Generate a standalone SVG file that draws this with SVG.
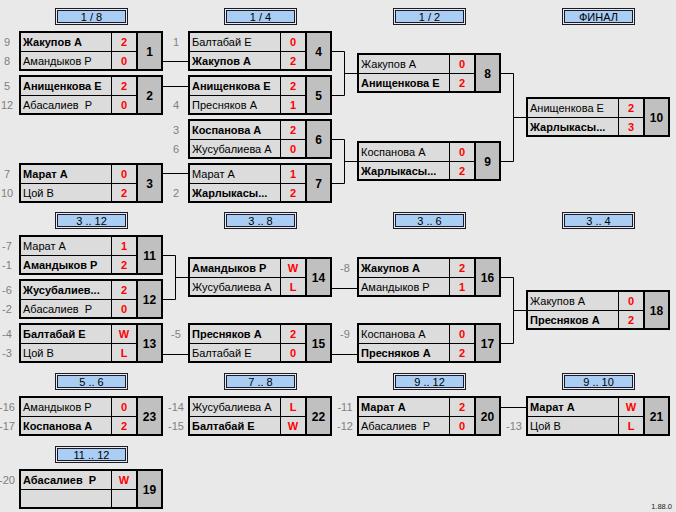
<svg xmlns="http://www.w3.org/2000/svg" width="676" height="512" viewBox="0 0 676 512">
<style>
.bg{fill:#e9e9e9}
.box{fill:#dcdcdc;stroke:#000;stroke-width:2}
.nc{fill:#c0c0c0}
.s1{stroke:#000;stroke-width:1;fill:none}
.s2{stroke:#000;stroke-width:2;fill:none}
text{font-family:"Liberation Sans",Arial,sans-serif;font-size:11px}
.nm{fill:#000}
.nb{fill:#000;font-weight:bold}
.sc{fill:#ff0000;font-weight:bold;text-anchor:middle}
.id{fill:#000;font-weight:bold;font-size:12px;text-anchor:middle}
.sd{fill:#808080;text-anchor:middle}
.ho{fill:#e9e9e9;stroke:#1a1a2a;stroke-width:1}
.hi{fill:#a9cdf3;stroke:#1a1a2a;stroke-width:1}
.ht{fill:#000;text-anchor:middle}
.con{stroke:#000;stroke-width:1;fill:none}
.ver{fill:#222;font-size:7.5px;text-anchor:end}
</style>
<defs>
<g id="frame">
<rect class="box" x="1" y="1" width="142" height="38"/>
<rect class="nc" x="118" y="2" width="24" height="36"/>
<path class="s1" d="M92.5 2V38M2 20.5H118"/>
<path class="s2" d="M118 2V38"/>
</g>
<g id="hdr">
<rect class="ho" x="0.5" y="0.5" width="72" height="16"/>
<rect class="hi" x="2.5" y="2.5" width="68" height="12"/>
</g>
</defs>
<rect class="bg" x="0" y="0" width="676" height="512"/>

<g id="headers">
<g transform="translate(55,8)"><use href="#hdr"/><text class="ht" x="36.5" y="13">1 / 8</text></g>
<g transform="translate(224,8)"><use href="#hdr"/><text class="ht" x="36.5" y="13">1 / 4</text></g>
<g transform="translate(393,8)"><use href="#hdr"/><text class="ht" x="36.5" y="13">1 / 2</text></g>
<g transform="translate(562,8)"><use href="#hdr"/><text class="ht" x="36.5" y="13">ФИНАЛ</text></g>
<g transform="translate(55,212)"><use href="#hdr"/><text class="ht" x="36.5" y="13">3 .. 12</text></g>
<g transform="translate(224,212)"><use href="#hdr"/><text class="ht" x="36.5" y="13">3 .. 8</text></g>
<g transform="translate(393,212)"><use href="#hdr"/><text class="ht" x="36.5" y="13">3 .. 6</text></g>
<g transform="translate(562,212)"><use href="#hdr"/><text class="ht" x="36.5" y="13">3 .. 4</text></g>
<g transform="translate(55,373)"><use href="#hdr"/><text class="ht" x="36.5" y="13">5 .. 6</text></g>
<g transform="translate(224,373)"><use href="#hdr"/><text class="ht" x="36.5" y="13">7 .. 8</text></g>
<g transform="translate(393,373)"><use href="#hdr"/><text class="ht" x="36.5" y="13">9 .. 12</text></g>
<g transform="translate(562,373)"><use href="#hdr"/><text class="ht" x="36.5" y="13">9 .. 10</text></g>
<g transform="translate(55,446)"><use href="#hdr"/><text class="ht" x="36.5" y="13">11 .. 12</text></g>
</g>

<g id="connectors" class="con">
<path d="M163 61.5H188"/>
<path d="M163 86.5H188"/>
<path d="M163 173.5H188"/>
<path d="M332 51.5H344.5V95.5H332M344.5 73.5H357"/>
<path d="M332 139.5H344.5V183.5H332M344.5 161.5H357"/>
<path d="M501 73.5H513.5V161.5H501M513.5 117.5H526"/>
<path d="M163 255.5H175.5V299.5H163M175.5 277.5H188"/>
<path d="M163 354.5H188"/>
<path d="M332 288.5H357"/>
<path d="M332 354.5H357"/>
<path d="M501 277.5H513.5V343.5H501M513.5 310.5H526"/>
<path d="M501 407.5H526"/>
</g>

<g id="m1" transform="translate(19,31)"><use href="#frame"/>
<text class="sd" x="-12" y="15">9</text><text class="sd" x="-12" y="34">8</text>
<text class="nb" x="4" y="15">Жакупов А</text><text class="nm" x="4" y="34">Амандыков Р</text>
<text class="sc" x="105" y="15">2</text><text class="sc" x="105" y="34">0</text>
<text class="id" x="130.5" y="25">1</text></g>

<g id="m2" transform="translate(19,75)"><use href="#frame"/>
<text class="sd" x="-12" y="15">5</text><text class="sd" x="-12" y="34">12</text>
<text class="nb" x="4" y="15">Анищенкова Е</text><text class="nm" x="4" y="34" xml:space="preserve">Абасалиев  Р</text>
<text class="sc" x="105" y="15">2</text><text class="sc" x="105" y="34">0</text>
<text class="id" x="130.5" y="25">2</text></g>

<g id="m3" transform="translate(19,163)"><use href="#frame"/>
<text class="sd" x="-12" y="15">7</text><text class="sd" x="-12" y="34">10</text>
<text class="nb" x="4" y="15">Марат А</text><text class="nm" x="4" y="34">Цой В</text>
<text class="sc" x="105" y="15">0</text><text class="sc" x="105" y="34">2</text>
<text class="id" x="130.5" y="25">3</text></g>

<g id="m4" transform="translate(188,31)"><use href="#frame"/>
<text class="sd" x="-12" y="15">1</text>
<text class="nm" x="4" y="15">Балтабай Е</text><text class="nb" x="4" y="34">Жакупов А</text>
<text class="sc" x="105" y="15">0</text><text class="sc" x="105" y="34">2</text>
<text class="id" x="130.5" y="25">4</text></g>

<g id="m5" transform="translate(188,75)"><use href="#frame"/>
<text class="sd" x="-12" y="34">4</text>
<text class="nb" x="4" y="15">Анищенкова Е</text><text class="nm" x="4" y="34">Пресняков А</text>
<text class="sc" x="105" y="15">2</text><text class="sc" x="105" y="34">1</text>
<text class="id" x="130.5" y="25">5</text></g>

<g id="m6" transform="translate(188,119)"><use href="#frame"/>
<text class="sd" x="-12" y="15">3</text><text class="sd" x="-12" y="34">6</text>
<text class="nb" x="4" y="15">Коспанова А</text><text class="nm" x="4" y="34">Жусубалиева А</text>
<text class="sc" x="105" y="15">2</text><text class="sc" x="105" y="34">0</text>
<text class="id" x="130.5" y="25">6</text></g>

<g id="m7" transform="translate(188,163)"><use href="#frame"/>
<text class="sd" x="-12" y="34">2</text>
<text class="nm" x="4" y="15">Марат А</text><text class="nb" x="4" y="34">Жарлыкасы...</text>
<text class="sc" x="105" y="15">1</text><text class="sc" x="105" y="34">2</text>
<text class="id" x="130.5" y="25">7</text></g>

<g id="m8" transform="translate(357,53)"><use href="#frame"/>
<text class="nm" x="4" y="15">Жакупов А</text><text class="nb" x="4" y="34">Анищенкова Е</text>
<text class="sc" x="105" y="15">0</text><text class="sc" x="105" y="34">2</text>
<text class="id" x="130.5" y="25">8</text></g>

<g id="m9" transform="translate(357,141)"><use href="#frame"/>
<text class="nm" x="4" y="15">Коспанова А</text><text class="nb" x="4" y="34">Жарлыкасы...</text>
<text class="sc" x="105" y="15">0</text><text class="sc" x="105" y="34">2</text>
<text class="id" x="130.5" y="25">9</text></g>

<g id="m10" transform="translate(526,97)"><use href="#frame"/>
<text class="nm" x="4" y="15">Анищенкова Е</text><text class="nb" x="4" y="34">Жарлыкасы...</text>
<text class="sc" x="105" y="15">2</text><text class="sc" x="105" y="34">3</text>
<text class="id" x="130.5" y="25">10</text></g>

<g id="m11" transform="translate(19,235)"><use href="#frame"/>
<text class="sd" x="-12" y="15">-7</text><text class="sd" x="-12" y="34">-1</text>
<text class="nm" x="4" y="15">Марат А</text><text class="nb" x="4" y="34">Амандыков Р</text>
<text class="sc" x="105" y="15">1</text><text class="sc" x="105" y="34">2</text>
<text class="id" x="130.5" y="25">11</text></g>

<g id="m12" transform="translate(19,279)"><use href="#frame"/>
<text class="sd" x="-12" y="15">-6</text><text class="sd" x="-12" y="34">-2</text>
<text class="nb" x="4" y="15">Жусубалиев...</text><text class="nm" x="4" y="34" xml:space="preserve">Абасалиев  Р</text>
<text class="sc" x="105" y="15">2</text><text class="sc" x="105" y="34">0</text>
<text class="id" x="130.5" y="25">12</text></g>

<g id="m13" transform="translate(19,323)"><use href="#frame"/>
<text class="sd" x="-12" y="15">-4</text><text class="sd" x="-12" y="34">-3</text>
<text class="nb" x="4" y="15">Балтабай Е</text><text class="nm" x="4" y="34">Цой В</text>
<text class="sc" x="105" y="15">W</text><text class="sc" x="105" y="34">L</text>
<text class="id" x="130.5" y="25">13</text></g>

<g id="m14" transform="translate(188,257)"><use href="#frame"/>
<text class="nb" x="4" y="15">Амандыков Р</text><text class="nm" x="4" y="34">Жусубалиева А</text>
<text class="sc" x="105" y="15">W</text><text class="sc" x="105" y="34">L</text>
<text class="id" x="130.5" y="25">14</text></g>

<g id="m15" transform="translate(188,323)"><use href="#frame"/>
<text class="sd" x="-12" y="15">-5</text>
<text class="nb" x="4" y="15">Пресняков А</text><text class="nm" x="4" y="34">Балтабай Е</text>
<text class="sc" x="105" y="15">2</text><text class="sc" x="105" y="34">0</text>
<text class="id" x="130.5" y="25">15</text></g>

<g id="m16" transform="translate(357,257)"><use href="#frame"/>
<text class="sd" x="-12" y="15">-8</text>
<text class="nb" x="4" y="15">Жакупов А</text><text class="nm" x="4" y="34">Амандыков Р</text>
<text class="sc" x="105" y="15">2</text><text class="sc" x="105" y="34">1</text>
<text class="id" x="130.5" y="25">16</text></g>

<g id="m17" transform="translate(357,323)"><use href="#frame"/>
<text class="sd" x="-12" y="15">-9</text>
<text class="nm" x="4" y="15">Коспанова А</text><text class="nb" x="4" y="34">Пресняков А</text>
<text class="sc" x="105" y="15">0</text><text class="sc" x="105" y="34">2</text>
<text class="id" x="130.5" y="25">17</text></g>

<g id="m18" transform="translate(526,290)"><use href="#frame"/>
<text class="nm" x="4" y="15">Жакупов А</text><text class="nb" x="4" y="34">Пресняков А</text>
<text class="sc" x="105" y="15">0</text><text class="sc" x="105" y="34">2</text>
<text class="id" x="130.5" y="25">18</text></g>

<g id="m23" transform="translate(19,396)"><use href="#frame"/>
<text class="sd" x="-12" y="15">-16</text><text class="sd" x="-12" y="34">-17</text>
<text class="nm" x="4" y="15">Амандыков Р</text><text class="nb" x="4" y="34">Коспанова А</text>
<text class="sc" x="105" y="15">0</text><text class="sc" x="105" y="34">2</text>
<text class="id" x="130.5" y="25">23</text></g>

<g id="m22" transform="translate(188,396)"><use href="#frame"/>
<text class="sd" x="-12" y="15">-14</text><text class="sd" x="-12" y="34">-15</text>
<text class="nm" x="4" y="15">Жусубалиева А</text><text class="nb" x="4" y="34">Балтабай Е</text>
<text class="sc" x="105" y="15">L</text><text class="sc" x="105" y="34">W</text>
<text class="id" x="130.5" y="25">22</text></g>

<g id="m20" transform="translate(357,396)"><use href="#frame"/>
<text class="sd" x="-12" y="15">-11</text><text class="sd" x="-12" y="34">-12</text>
<text class="nb" x="4" y="15">Марат А</text><text class="nm" x="4" y="34" xml:space="preserve">Абасалиев  Р</text>
<text class="sc" x="105" y="15">2</text><text class="sc" x="105" y="34">0</text>
<text class="id" x="130.5" y="25">20</text></g>

<g id="m21" transform="translate(526,396)"><use href="#frame"/>
<text class="sd" x="-12" y="34">-13</text>
<text class="nb" x="4" y="15">Марат А</text><text class="nm" x="4" y="34">Цой В</text>
<text class="sc" x="105" y="15">W</text><text class="sc" x="105" y="34">L</text>
<text class="id" x="130.5" y="25">21</text></g>

<g id="m19" transform="translate(19,469)"><use href="#frame"/>
<text class="sd" x="-12" y="15">-20</text>
<text class="nb" x="4" y="15" xml:space="preserve">Абасалиев  Р</text>
<text class="sc" x="105" y="15">W</text>
<text class="id" x="130.5" y="25">19</text></g>

<text class="ver" x="672" y="509">1.88.0</text>
</svg>
